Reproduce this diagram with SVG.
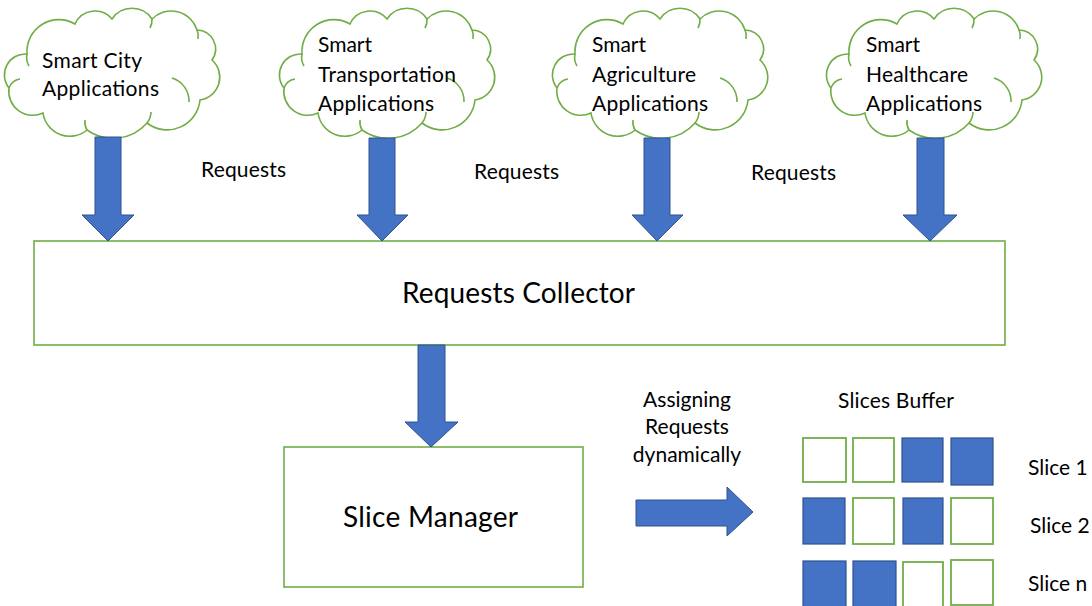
<svg xmlns="http://www.w3.org/2000/svg" width="1092" height="606" viewBox="0 0 1092 606">
  <style>
    .t { font-family: Lato, "Open Sans", "Liberation Sans", sans-serif; fill: #000; }
    .cloud { fill: #fff; stroke: #70AD47; stroke-width: 1.6; }
    .curl { fill: none; stroke: #70AD47; stroke-width: 1.6; }
    .box { fill: #fff; stroke: #70AD47; stroke-width: 1.6; }
    .arrow { fill: #4472C4; stroke: #2F528F; stroke-width: 1; }
    .cellE { fill: #fff; stroke: #70AD47; stroke-width: 1.8; }
    .cellF { fill: #4472C4; stroke: #2F528F; stroke-width: 1.2; }
  </style>
  <defs>
    <!-- cloud outline in a 210 x 128 local box -->
    <g id="cloudShape">
      <path class="cloud" d="M 1,78 A 21,21 0 0 1 19,44 A 32,32 0 0 1 67,14 A 22,22 0 0 1 104,9 A 24,24 0 0 1 144,9 A 27,27 0 0 1 189,20 A 19,19 0 0 1 204,50 A 23,23 0 0 1 192,90 A 33,33 0 0 1 139,113 A 45,45 0 0 1 79,120 A 27,27 0 0 1 35,103 A 24,24 0 0 1 1,78 Z"/>
      <path class="curl" d="M 19,44 A 16,16 0 0 0 21,56"/>
      <path class="curl" d="M 164,68 A 24,24 0 0 1 181,92"/>
      <path class="curl" d="M 1,78 A 14,14 0 0 1 12,69"/>
      <path class="curl" d="M 79,120 A 16,16 0 0 1 77,110"/>
      <path class="curl" d="M 139,113 A 18,18 0 0 0 143,102"/>
      <path class="curl" d="M 144,9 A 16,16 0 0 1 142,18"/>
      <path class="curl" d="M 189,20 A 14,14 0 0 1 190,29"/>
    </g>
  </defs>

  <rect width="1092" height="606" fill="#fff"/>

  <!-- application clouds -->
  <g id="smart-city">
    <use href="#cloudShape" transform="translate(8,10)"/>
    <text class="t" font-size="21" x="42" y="68" textLength="100">Smart City</text>
    <text class="t" font-size="21" x="42" y="96" textLength="117">Applications</text>
  </g>
  <g id="smart-transportation">
    <use href="#cloudShape" transform="translate(283,10)"/>
    <text class="t" font-size="21" x="318" y="52">Smart</text>
    <text class="t" font-size="21" x="318" y="82" textLength="138">Transportation</text>
    <text class="t" font-size="21" x="318" y="111" textLength="116">Applications</text>
  </g>
  <g id="smart-agriculture">
    <use href="#cloudShape" transform="translate(556,10)"/>
    <text class="t" font-size="21" x="592" y="52">Smart</text>
    <text class="t" font-size="21" x="592" y="82" textLength="104">Agriculture</text>
    <text class="t" font-size="21" x="592" y="111" textLength="116">Applications</text>
  </g>
  <g id="smart-healthcare">
    <use href="#cloudShape" transform="translate(830,10)"/>
    <text class="t" font-size="21" x="866" y="52">Smart</text>
    <text class="t" font-size="21" x="866" y="82" textLength="102">Healthcare</text>
    <text class="t" font-size="21" x="866" y="111" textLength="116">Applications</text>
  </g>

  <!-- request labels -->
  <g id="request-labels">
    <text class="t" font-size="21" x="201" y="177" textLength="85">Requests</text>
    <text class="t" font-size="21" x="474" y="179" textLength="85">Requests</text>
    <text class="t" font-size="21" x="751" y="180" textLength="85">Requests</text>
  </g>

  <g id="requests-collector">
    <rect class="box" x="34" y="241" width="971" height="104"/>
    <text class="t" font-size="28" x="402" y="303" textLength="233">Requests Collector</text>
  </g>

  <g id="slice-manager">
    <rect class="box" x="284" y="447" width="299" height="140"/>
    <text class="t" font-size="28" x="343" y="527" textLength="175">Slice Manager</text>
  </g>

  <g id="assign-label">
    <text class="t" font-size="21" text-anchor="middle" x="687" y="407">Assigning</text>
    <text class="t" font-size="21" text-anchor="middle" x="687" y="434">Requests</text>
    <text class="t" font-size="21" text-anchor="middle" x="687" y="462">dynamically</text>
  </g>

  <g id="slices-buffer">
    <text class="t" font-size="21" x="838" y="408" textLength="116">Slices Buffer</text>
    <!-- slice 1 -->
    <rect class="cellE" x="803" y="438" width="43" height="44"/>
    <rect class="cellE" x="853" y="438" width="41" height="44"/>
    <rect class="cellF" x="902" y="438" width="41" height="44"/>
    <rect class="cellF" x="951" y="438" width="42" height="47"/>
    <!-- slice 2 -->
    <rect class="cellF" x="803" y="498" width="42" height="46"/>
    <rect class="cellE" x="853" y="498" width="41" height="46"/>
    <rect class="cellF" x="903" y="498" width="40" height="46"/>
    <rect class="cellE" x="951" y="498" width="42" height="46"/>
    <!-- slice n -->
    <rect class="cellF" x="803" y="561" width="43" height="50"/>
    <rect class="cellF" x="853" y="561" width="43" height="50"/>
    <rect class="cellE" x="903" y="562" width="40" height="50"/>
    <rect class="cellE" x="951" y="560" width="42" height="45"/>
    <text class="t" font-size="21" x="1028" y="475">Slice 1</text>
    <text class="t" font-size="21" x="1030" y="533">Slice 2</text>
    <text class="t" font-size="21" x="1028" y="591">Slice n</text>
  </g>

  <!-- block arrows -->
  <g id="connectors">
    <polygon class="arrow" points="95,137 121,137 121,215 134,215 108,241 82,215 95,215"/>
    <polygon class="arrow" points="369,138 395,138 395,215 408,215 382,241 357,215 369,215"/>
    <polygon class="arrow" points="644,138 670,138 670,215 683,215 657,241 632,215 644,215"/>
    <polygon class="arrow" points="917,138 944,138 944,215 957,215 930,241 903,215 917,215"/>
    <polygon class="arrow" points="418,345 445,345 445,422 458,422 431,447 405,422 418,422"/>
    <polygon class="arrow" points="636,500 727,500 727,487 753,512 727,536 727,526 636,526"/>
  </g>
</svg>
